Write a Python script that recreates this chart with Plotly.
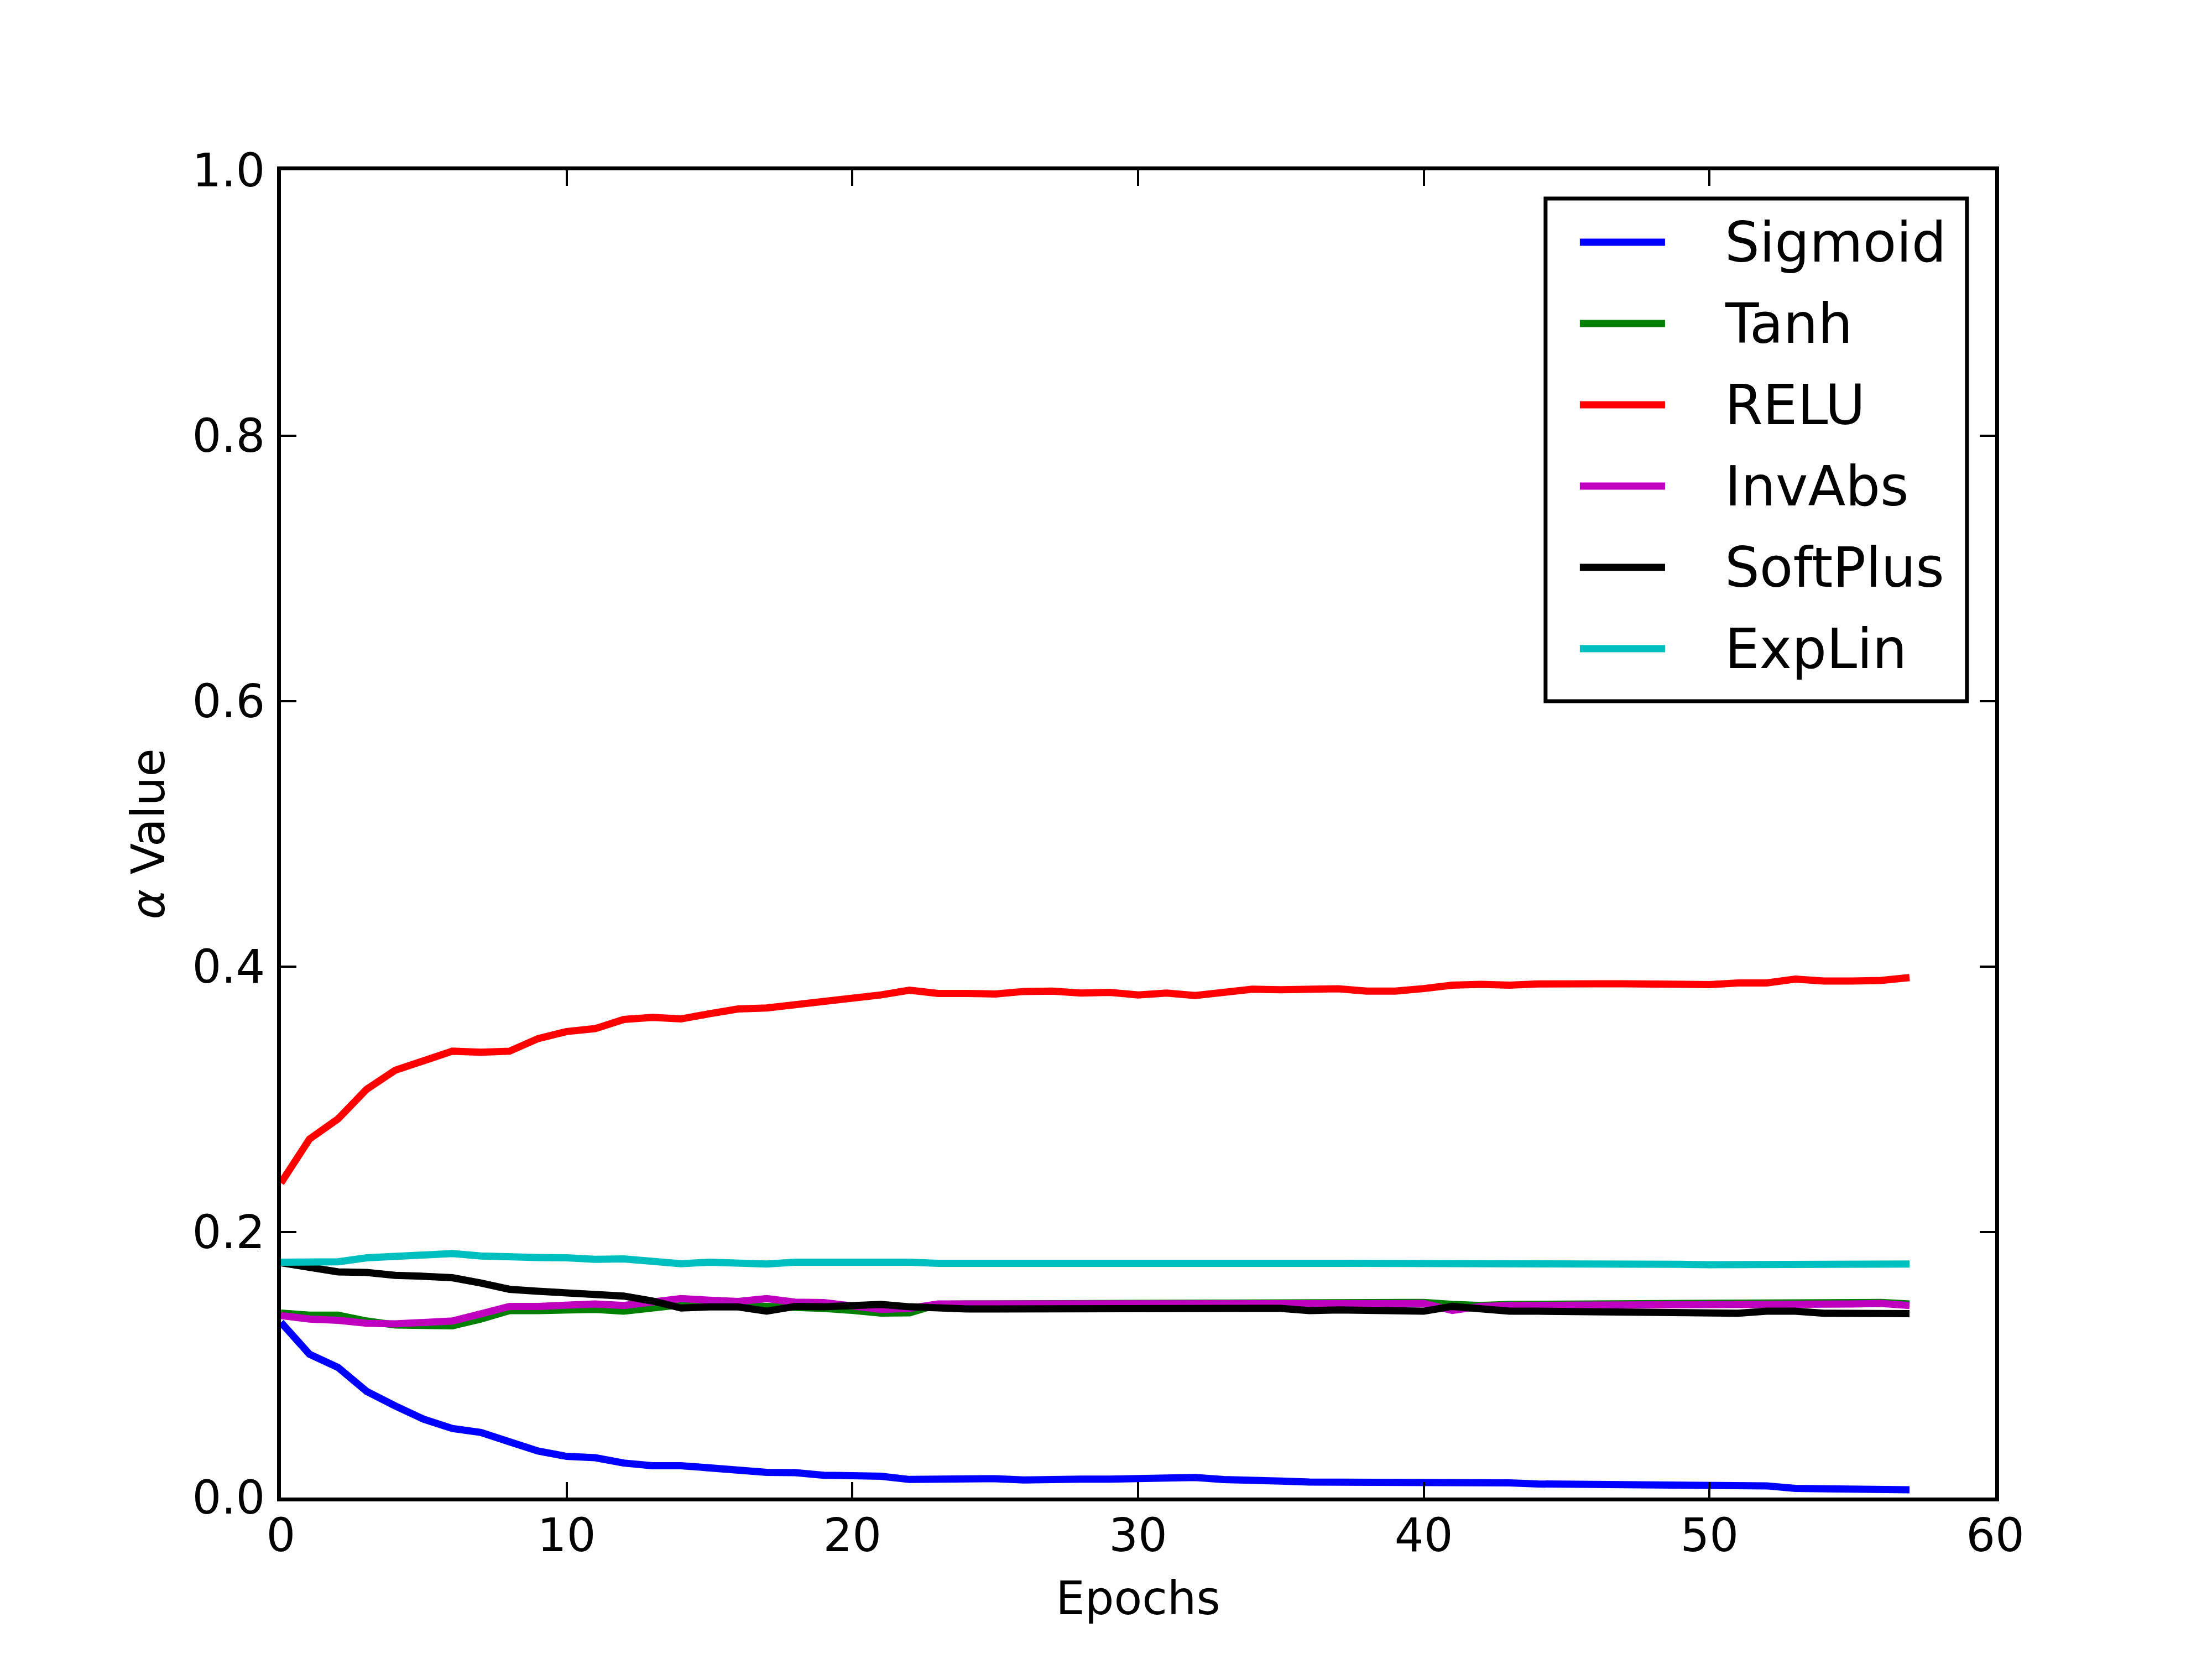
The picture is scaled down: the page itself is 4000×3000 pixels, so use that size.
import plotly.graph_objects as go

epochs = list(range(58))

sigmoid = [0.132, 0.108, 0.098, 0.080, 0.069, 0.059, 0.052, 0.049, 0.042, 0.035,
           0.031, 0.030, 0.026, 0.024, 0.024, 0.022, 0.021, 0.019, 0.0187, 0.0168,
           0.0165, 0.0160, 0.0136, 0.0139, 0.0139, 0.0142, 0.0132, 0.0129, 0.0139, 0.0139,
           0.0146, 0.0142, 0.0151, 0.0135, 0.0124, 0.0124, 0.0117, 0.0117, 0.0120, 0.0120,
           0.0113, 0.0122, 0.0117, 0.0110, 0.0102, 0.0099, 0.0095, 0.0095, 0.0095, 0.0095,
           0.0095, 0.0088, 0.0088, 0.0069, 0.0069, 0.0069, 0.0058, 0.0058]
tanh = [0.1390, 0.1374, 0.1374, 0.1330, 0.1300, 0.1294, 0.1294, 0.1345, 0.1408, 0.1408,
        0.1411, 0.1418, 0.1404, 0.1425, 0.1452, 0.1455, 0.1447, 0.1452, 0.1433, 0.1425,
        0.1410, 0.1390, 0.1392, 0.1455, 0.1458, 0.1458, 0.1458, 0.1458, 0.1458, 0.1458,
        0.1462, 0.1462, 0.1465, 0.1460, 0.1458, 0.1460, 0.1468, 0.1470, 0.1470, 0.1470,
        0.1470, 0.1455, 0.1447, 0.1455, 0.1456, 0.1460, 0.1460, 0.1462, 0.1463, 0.1465,
        0.1466, 0.1464, 0.1460, 0.1456, 0.1464, 0.1466, 0.1470, 0.1458]
relu = [0.2370, 0.2701, 0.2853, 0.3076, 0.3219, 0.3291, 0.3363, 0.3355, 0.3363, 0.3458,
        0.3511, 0.3533, 0.3602, 0.3618, 0.3606, 0.3645, 0.3681, 0.3689, 0.3713, 0.3745,
        0.3766, 0.3787, 0.3823, 0.3798, 0.3798, 0.3794, 0.3813, 0.3816, 0.3801, 0.3806,
        0.3787, 0.3801, 0.3782, 0.3808, 0.3830, 0.3826, 0.3826, 0.3833, 0.3816, 0.3816,
        0.3835, 0.3860, 0.3867, 0.3860, 0.3870, 0.3864, 0.3871, 0.3871, 0.3868, 0.3867,
        0.3865, 0.3877, 0.3877, 0.3906, 0.3892, 0.3892, 0.3896, 0.3918]
invabs = [0.1371, 0.1345, 0.1335, 0.1313, 0.1308, 0.1320, 0.1330, 0.1384, 0.1440, 0.1440,
          0.1444, 0.1458, 0.1447, 0.1477, 0.1499, 0.1487, 0.1477, 0.1499, 0.1472, 0.1469,
          0.1447, 0.1418, 0.1425, 0.1458, 0.1458, 0.1458, 0.1458, 0.1458, 0.1458, 0.1455,
          0.1462, 0.1462, 0.1465, 0.1458, 0.1455, 0.1455, 0.1458, 0.1458, 0.1462, 0.1462,
          0.1462, 0.1410, 0.1440, 0.1447, 0.1447, 0.1452, 0.1452, 0.1455, 0.1455, 0.1458,
          0.1458, 0.1455, 0.1451, 0.1447, 0.1455, 0.1458, 0.1462, 0.1447]
softplus = [0.1769, 0.1732, 0.1700, 0.1696, 0.1674, 0.1667, 0.1656, 0.1616, 0.1569, 0.1554,
            0.1540, 0.1520, 0.1518, 0.1481, 0.1428, 0.1436, 0.1436, 0.1404, 0.1440, 0.1437,
            0.1447, 0.1455, 0.1437, 0.1423, 0.1421, 0.1421, 0.1420, 0.1421, 0.1422, 0.1428,
            0.1423, 0.1418, 0.1421, 0.1425, 0.1425, 0.1425, 0.1408, 0.1414, 0.1408, 0.1408,
            0.1404, 0.1440, 0.1418, 0.1404, 0.1404, 0.1401, 0.1396, 0.1393, 0.1393, 0.1392,
            0.1389, 0.1389, 0.1404, 0.1404, 0.1389, 0.1386, 0.1379, 0.1385]
explin = [0.1773, 0.1780, 0.1776, 0.1806, 0.1813, 0.1827, 0.1838, 0.1820, 0.1808, 0.1808,
          0.1806, 0.1795, 0.1798, 0.1784, 0.1762, 0.1773, 0.1772, 0.1759, 0.1773, 0.1773,
          0.1779, 0.1776, 0.1773, 0.1765, 0.1766, 0.1766, 0.1766, 0.1766, 0.1766, 0.1769,
          0.1765, 0.1765, 0.1765, 0.1767, 0.1769, 0.1769, 0.1765, 0.1765, 0.1765, 0.1764,
          0.1762, 0.1769, 0.1762, 0.1759, 0.1757, 0.1757, 0.1757, 0.1757, 0.1757, 0.1757,
          0.1754, 0.1756, 0.1759, 0.1762, 0.1759, 0.1759, 0.1759, 0.1759]

names = ['Sigmoid', 'Tanh', 'RELU', 'InvAbs', 'SoftPlus', 'ExpLin']
series = [sigmoid, tanh, relu, invabs, softplus, explin]
colors = ['#0000ff', '#008000', '#ff0000', '#bf00bf', '#000000', '#00bfbf']

font = 'DejaVu Sans'

fig = go.Figure()
for name, ys, c in zip(names, series, colors):
    fig.add_trace(go.Scatter(x=epochs, y=ys, mode='lines', name=name,
                             line=dict(color=c, width=13), showlegend=False))

axis_common = dict(showgrid=False, zeroline=False, showline=True, linecolor='black',
                   linewidth=7, mirror='allticks', ticks='inside', ticklen=28,
                   tickwidth=3.5, tickcolor='black',
                   tickfont=dict(family=font, size=83, color='black'))

fig.update_xaxes(range=[0, 60], dtick=10, tick0=0, ticklabelstandoff=-10,
                 title=dict(text='Epochs', font=dict(family=font, size=83, color='black'),
                            standoff=40),
                 **axis_common)
fig.update_yaxes(range=[0, 1], dtick=0.2, tick0=0, tickformat='.1f', ticklabelstandoff=5,
                 title=dict(text='<i>α</i> Value', font=dict(family=font, size=83, color='black'),
                            standoff=25),
                 **axis_common)

# legend box drawn by hand (matplotlib style, long line samples)
fig.add_shape(type='rect', xref='paper', yref='paper', x0=0.7377, x1=0.9835,
              y0=0.600, y1=0.9788, line=dict(color='black', width=7), fillcolor='white',
              layer='above')
for i, (name, c) in enumerate(zip(names, colors)):
    yy = 0.9458 - 0.06125 * i
    fig.add_shape(type='line', xref='paper', yref='paper', x0=0.7577, x1=0.8074,
                  y0=yy, y1=yy, line=dict(color=c, width=13), layer='above')
    fig.add_annotation(x=0.8416, y=yy, xref='paper', yref='paper', text=name,
                       showarrow=False, xanchor='left', yanchor='middle',
                       font=dict(family=font, size=99, color='black'))

fig.update_layout(width=4000, height=3000, plot_bgcolor='white', paper_bgcolor='white',
                  margin=dict(l=500, r=400, t=300, b=300))

fig.write_html("out.html")
